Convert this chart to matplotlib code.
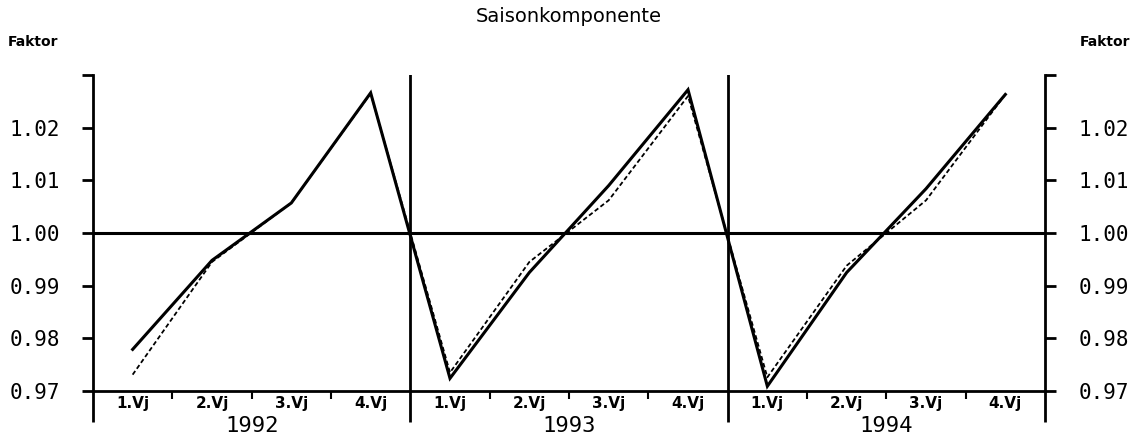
import numpy as numpy
import matplotlib
matplotlib.use( "Agg" )
import matplotlib.pyplot as plt
from matplotlib.transforms import blended_transform_factory

# seasonal factors per quarter, 1992 - 1994
years = ["1992", "1993", "1994"]
quarters = ["1.Vj", "2.Vj", "3.Vj", "4.Vj"]
saison = [0.9779, 0.9948, 1.0057, 1.0266,
          0.9724, 0.9925, 1.0090, 1.0272,
          0.9709, 0.9925, 1.0084, 1.0263]
saison2 = [0.9731, 0.9945, 1.0057, 1.0265,
           0.9735, 0.9945, 1.0062, 1.0260,
           0.9726, 0.9938, 1.0062, 1.0263]
yticks = [0.97, 0.98, 0.99, 1.00, 1.01, 1.02, 1.03]

mono = "DejaVu Sans Mono"

fig = plt.figure( figsize=( 11.38, 4.41 ), dpi=100 )
ax = fig.add_axes( [0.0817, 0.1134, 0.8366, 0.7166] )

nq = len( saison )
xs = numpy.arange( nq ) + 0.5

ax.plot( xs, saison2, color='k', lw=1.3, ls=( 0, ( 2.5, 1.5 ) ) )
ax.plot( xs, saison, color='k', lw=2.2, solid_joinstyle='miter' )

# reference lines
ax.axhline( 1.0, color='k', lw=2.2 )
for k in range( 1, len( years ) ) :
    ax.axvline( 4 * k, color='k', lw=2.0 )

ax.set_xlim( 0, nq )
ax.set_ylim( 0.97, 1.03 )

ax.spines["top"].set_visible( False )
for s in ["left", "right", "bottom"] :
    ax.spines[s].set_linewidth( 2.0 )

# y axis on both sides
ax.set_yticks( yticks )
ax.set_yticklabels( ["%.2f" % v if v < 1.025 else "" for v in yticks] )
ax.tick_params( axis='y', which='major', left=True, right=True,
                labelleft=True, labelright=True, direction='out',
                length=8, width=2.0, pad=16, labelsize=15 )
for lab in ax.get_yticklabels() :
    lab.set_family( mono )

# x axis: long ticks at year boundaries, short at quarter boundaries
ax.set_xticks( [0, 4, 8, 12] )
ax.set_xticks( [1, 2, 3, 5, 6, 7, 9, 10, 11], minor=True )
ax.set_xticklabels( [] )
ax.tick_params( axis='x', which='major', direction='out', length=22, width=2.0 )
ax.tick_params( axis='x', which='minor', direction='out', length=6, width=1.5 )

trans = blended_transform_factory( ax.transData, ax.transAxes )
for i in range( nq ) :
    ax.text( i + 0.5, -0.04, quarters[i % 4], transform=trans, ha='center',
             va='center', fontsize=11, fontweight='bold', family="DejaVu Sans Condensed" )
for k, yr in enumerate( years ) :
    ax.text( 4 * k + 2, -0.11, yr, transform=trans, ha='center', va='center',
             fontsize=16, family=mono )

fig.text( 0.5, 0.962, "Saisonkomponente", ha='center', va='center', fontsize=14 )
fig.text( 0.007, 0.905, "Faktor", ha='left', va='center', fontsize=10, fontweight='bold' )
fig.text( 0.993, 0.905, "Faktor", ha='right', va='center', fontsize=10, fontweight='bold' )

fig.savefig( "out.png", dpi=100 )
